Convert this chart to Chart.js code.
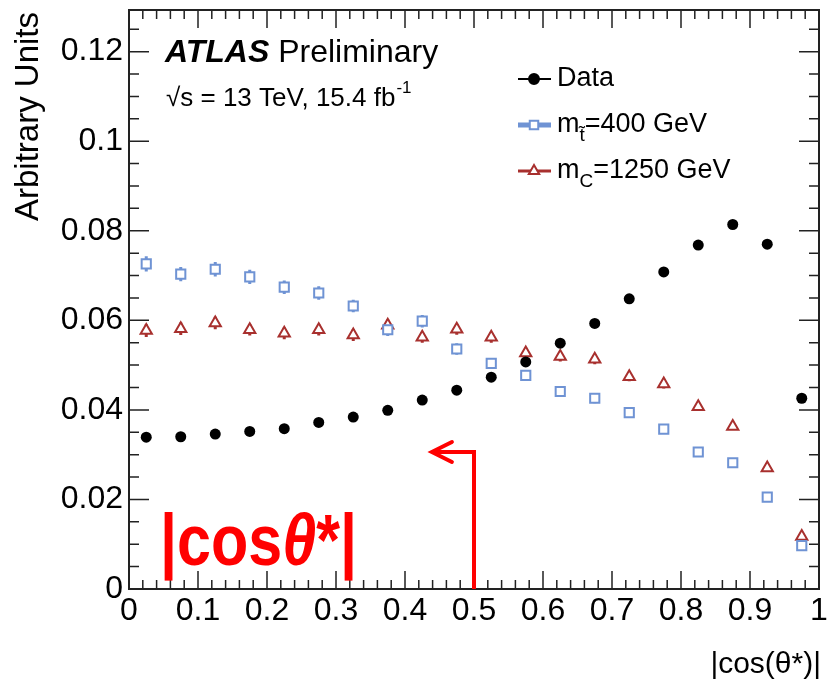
<!DOCTYPE html>
<html>
<head>
<meta charset="utf-8">
<script src="https://cdn.jsdelivr.net/npm/chart.js@4.4.0/dist/chart.umd.min.js"></script>
<style>
  body { margin: 0; background: #fff; }
  canvas { display: block; }
</style>
</head>
<body>
<canvas id="chart" width="829" height="687"></canvas>
<script>
// bin centres of |cos(theta*)|
const binCenters = [0.025, 0.075, 0.125, 0.175, 0.225, 0.275, 0.325, 0.375, 0.425, 0.475,
                    0.525, 0.575, 0.625, 0.675, 0.725, 0.775, 0.825, 0.875, 0.925, 0.975];

const dataValues = [0.0339, 0.0340, 0.0346, 0.0352, 0.0358, 0.0372, 0.0384, 0.0399, 0.0422, 0.0444,
                    0.0473, 0.0507, 0.0549, 0.0593, 0.0648, 0.0708, 0.0768, 0.0814, 0.0770, 0.0426];
const dataErrors = [0.0003, 0.0003, 0.0003, 0.0003, 0.0003, 0.0003, 0.0003, 0.0003, 0.0003, 0.0003,
                    0.0003, 0.0003, 0.0003, 0.0004, 0.0004, 0.0004, 0.0004, 0.0004, 0.0004, 0.0003];

const stopValues = [0.0726, 0.0703, 0.0714, 0.0697, 0.0674, 0.0661, 0.0632, 0.0579, 0.0598, 0.0536,
                    0.0504, 0.0477, 0.0441, 0.0426, 0.0394, 0.0357, 0.0306, 0.0282, 0.0205, 0.0097];
const stopErrors = [0.0017, 0.0016, 0.0016, 0.0016, 0.0015, 0.0015, 0.0014, 0.0014, 0.0014, 0.0013,
                    0.0012, 0.0012, 0.0011, 0.0011, 0.0010, 0.0010, 0.0009, 0.0008, 0.0007, 0.0006];

const colorValues = [0.0577, 0.0581, 0.0594, 0.0579, 0.0571, 0.0579, 0.0567, 0.0589, 0.0562, 0.0580,
                     0.0562, 0.0527, 0.0519, 0.0513, 0.0474, 0.0458, 0.0407, 0.0363, 0.0270, 0.0117];
const colorErrors = [0.0014, 0.0014, 0.0014, 0.0013, 0.0013, 0.0013, 0.0013, 0.0013, 0.0012, 0.0012,
                     0.0012, 0.0012, 0.0011, 0.0011, 0.0010, 0.0010, 0.0009, 0.0008, 0.0007, 0.0006];

const xTickValues = [0, 0.1, 0.2, 0.3, 0.4, 0.5, 0.6, 0.7, 0.8, 0.9, 1];
const yTickValues = [0, 0.02, 0.04, 0.06, 0.08, 0.1, 0.12];

// legend rows: main text, subscript, rest
const legendRows = [
  ["Data", "", ""],
  ["m", "t\u0303", "=400 GeV"],
  ["m", "C", "=1250 GeV"]
];

const FONT = "'Liberation Sans', Arial, sans-serif";
const BLUE = "#6f93d4";
const RED = "#a8302e";

Chart.defaults.color = "#000";
Chart.defaults.font.family = FONT;

function toPoints(vals, errs) {
  return vals.map((v, i) => ({ x: binCenters[i], y: v, err: errs[i] }));
}

function drawMarker(ctx, style, x, y, r, color) {
  ctx.save();
  ctx.strokeStyle = color;
  ctx.fillStyle = style === "circle" ? color : "#fff";
  ctx.lineWidth = 2;
  ctx.beginPath();
  if (style === "circle") {
    ctx.arc(x, y, r, 0, Math.PI * 2);
  } else if (style === "rect") {
    const s = r * Math.SQRT1_2;
    ctx.rect(x - s, y - s, 2 * s, 2 * s);
  } else {
    ctx.moveTo(x, y - r);
    ctx.lineTo(x + r * 0.866, y + r * 0.5);
    ctx.lineTo(x - r * 0.866, y + r * 0.5);
    ctx.closePath();
  }
  ctx.fill();
  ctx.stroke();
  ctx.restore();
}

const framePlugin = {
  id: "frame",
  beforeDatasetsDraw(chart) {
    const { ctx, chartArea: a, scales } = chart;
    const xs = scales.x, ys = scales.y;
    ctx.save();
    ctx.strokeStyle = "#222";
    ctx.lineWidth = 1.5;
    ctx.beginPath();
    // x ticks, minor every 0.02
    for (let k = 0; k <= 50; k++) {
      const px = xs.getPixelForValue(k / 50);
      const len = k % 5 === 0 ? 18 : 9;
      ctx.moveTo(px, a.bottom); ctx.lineTo(px, a.bottom - len);
      ctx.moveTo(px, a.top); ctx.lineTo(px, a.top + len);
    }
    // y ticks, minor every 0.005
    for (let k = 0; k * 0.005 <= ys.max; k++) {
      const py = ys.getPixelForValue(k * 0.005);
      const len = k % 4 === 0 ? 20 : 10;
      ctx.moveTo(a.left, py); ctx.lineTo(a.left + len, py);
      ctx.moveTo(a.right, py); ctx.lineTo(a.right - len, py);
    }
    ctx.stroke();
    ctx.lineWidth = 2;
    ctx.strokeRect(a.left, a.top, a.right - a.left, a.bottom - a.top);

    // error bars
    chart.data.datasets.forEach(ds => {
      ctx.strokeStyle = ds.borderColor;
      ctx.lineWidth = 3;
      ctx.beginPath();
      ds.data.forEach(p => {
        const px = xs.getPixelForValue(p.x);
        ctx.moveTo(px, ys.getPixelForValue(p.y - p.err));
        ctx.lineTo(px, ys.getPixelForValue(p.y + p.err));
      });
      ctx.stroke();
    });
    ctx.restore();
  },
  afterDatasetsDraw(chart) {
    const { ctx, scales } = chart;
    const xs = scales.x, ys = scales.y;
    ctx.save();

    // axis titles
    ctx.fillStyle = "#000";
    ctx.font = "30px " + FONT;
    ctx.textAlign = "right";
    ctx.textBaseline = "alphabetic";
    ctx.fillText("|cos(\u03b8*)|", 821, 673);

    ctx.save();
    ctx.translate(38, 12);
    ctx.rotate(-Math.PI / 2);
    ctx.font = "33px " + FONT;
    ctx.textAlign = "right";
    ctx.fillText("Arbitrary Units", 0, 0);
    ctx.restore();

    // ATLAS label
    ctx.textAlign = "left";
    ctx.font = "italic bold 32px " + FONT;
    ctx.fillText("ATLAS", 165, 62);
    let w = ctx.measureText("ATLAS ").width;
    ctx.font = "32px " + FONT;
    ctx.fillText("Preliminary", 165 + w, 62);

    ctx.font = "26px " + FONT;
    const line2 = "\u221as = 13 TeV, 15.4 fb";
    ctx.fillText(line2, 166, 106);
    w = ctx.measureText(line2).width;
    ctx.font = "17px " + FONT;
    ctx.fillText("-1", 166 + w + 1, 93);

    // legend
    const styles = [
      { marker: "circle", color: "#000", lw: 2, r: 5 },
      { marker: "rect", color: BLUE, lw: 5, r: 6 },
      { marker: "triangle", color: RED, lw: 3, r: 6 }
    ];
    const rowY = [79, 125, 171];
    legendRows.forEach((row, i) => {
      const st = styles[i], y = rowY[i];
      ctx.strokeStyle = st.color;
      ctx.lineWidth = st.lw;
      ctx.beginPath();
      ctx.moveTo(518, y); ctx.lineTo(551, y);
      ctx.stroke();
      drawMarker(ctx, st.marker, 534, y, st.r, st.color);
      ctx.fillStyle = "#000";
      ctx.textBaseline = "middle";
      ctx.font = "27px " + FONT;
      let x = 557;
      ctx.fillText(row[0], x, y);
      x += ctx.measureText(row[0]).width;
      if (row[1]) {
        ctx.font = "19px " + FONT;
        ctx.fillText(row[1], x, y + 11);
        x += ctx.measureText(row[1]).width;
        ctx.font = "27px " + FONT;
        ctx.fillText(row[2], x, y);
      }
    });

    // red annotation
    ctx.textBaseline = "alphabetic";
    ctx.fillStyle = "#ff0000";
    const parts = [["|cos", "bold"], ["\u03b8", "italic bold"], ["*|", "bold"]];
    let total = 0;
    parts.forEach(p => { ctx.font = p[1] + " 72px " + FONT; total += ctx.measureText(p[0]).width; });
    ctx.save();
    ctx.translate(160, 565);
    ctx.scale(197 / total, 1);
    let tx = 0;
    parts.forEach(p => {
      ctx.font = p[1] + " 72px " + FONT;
      ctx.fillText(p[0], tx, 0);
      tx += ctx.measureText(p[0]).width;
    });
    ctx.restore();

    const ax = xs.getPixelForValue(0.5);
    const ay = ys.getPixelForValue(0.0306);
    const tipX = xs.getPixelForValue(0.439);
    ctx.strokeStyle = "#ff0000";
    ctx.lineWidth = 4;
    ctx.lineJoin = "miter";
    ctx.beginPath();
    ctx.moveTo(ax, ys.getPixelForValue(0));
    ctx.lineTo(ax, ay);
    ctx.lineTo(tipX, ay);
    ctx.stroke();
    ctx.lineCap = "round";
    ctx.beginPath();
    ctx.moveTo(tipX + 20, ay - 10);
    ctx.lineTo(tipX, ay);
    ctx.lineTo(tipX + 20, ay + 10);
    ctx.stroke();
    ctx.restore();
  }
};

new Chart(document.getElementById("chart"), {
  type: "scatter",
  data: {
    datasets: [
      {
        label: "Data",
        data: toPoints(dataValues, dataErrors),
        pointStyle: "circle",
        pointRadius: 5.5,
        borderColor: "#000",
        backgroundColor: "#000",
        pointBorderWidth: 0
      },
      {
        label: "m_t=400 GeV",
        data: toPoints(stopValues, stopErrors),
        pointStyle: "rect",
        pointRadius: 6.5,
        borderColor: BLUE,
        backgroundColor: "#fff",
        pointBorderWidth: 2
      },
      {
        label: "m_C=1250 GeV",
        data: toPoints(colorValues, colorErrors),
        pointStyle: "triangle",
        pointRadius: 6.5,
        borderColor: RED,
        backgroundColor: "#fff",
        pointBorderWidth: 2
      }
    ]
  },
  options: {
    responsive: false,
    animation: false,
    events: [],
    layout: { padding: { top: 10, right: 10, left: 0, bottom: 0 } },
    plugins: { legend: { display: false }, tooltip: { enabled: false } },
    scales: {
      x: {
        type: "linear",
        min: 0,
        max: 1,
        grid: { display: false, drawTicks: false },
        border: { display: false },
        afterBuildTicks: s => { s.ticks = xTickValues.map(v => ({ value: v })); },
        afterFit: s => { s.height = 98; s.paddingLeft = 0; s.paddingRight = 0; },
        ticks: {
          font: { size: 32 },
          padding: 3,
          maxRotation: 0,
          autoSkip: false,
          callback: v => String(v)
        }
      },
      y: {
        type: "linear",
        min: 0,
        max: 0.1293,
        grid: { display: false, drawTicks: false },
        border: { display: false },
        afterBuildTicks: s => { s.ticks = yTickValues.map(v => ({ value: v })); },
        afterFit: s => { s.width = 129; s.paddingTop = 0; s.paddingBottom = 0; },
        ticks: {
          font: { size: 32 },
          padding: 6,
          autoSkip: false,
          callback: v => String(v)
        }
      }
    }
  },
  plugins: [framePlugin]
});
</script>
</body>
</html>
